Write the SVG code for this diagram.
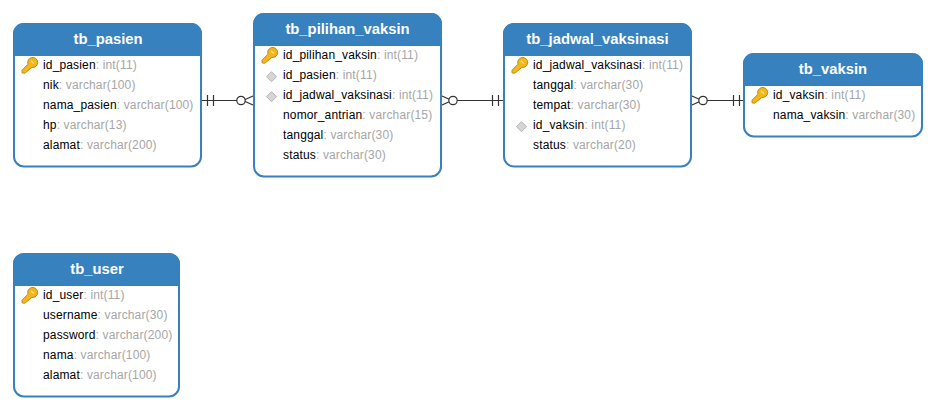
<svg xmlns="http://www.w3.org/2000/svg" width="936" height="411" viewBox="0 0 936 411">
<style>
text{font-family:"Liberation Sans",Arial,sans-serif;font-size:12px;letter-spacing:.15px;fill:#000}
.t{font-size:14.800px;font-weight:bold;letter-spacing:0;fill:#fff;text-anchor:middle}
.y{fill:#a6a6a6}
.b{fill:#fff;stroke:#3781bf;stroke-width:2}
.h{fill:#3781bf}
.c{fill:none;stroke:#333;stroke-width:1.200}
.o{fill:#fff;stroke:#333;stroke-width:1.200}
</style>
<defs>
<g id="key"><path d="M-7.500 6.200 L-1.500 0.200 A5 5 0 1 1 2.400 3.400 L-4.800 9.300 L-7.500 8.800Z" fill="#f3b71c" stroke="#c48a10" stroke-width="1"/><path d="M1.500 -3 L4.500 -0.500" stroke="#ffe38a" stroke-width="1.200" fill="none"/></g>
<path id="fk" d="M0 -5L5 0L0 5L-5 0Z" fill="#d6d6d6" stroke="#b3b3b3"/>
</defs>
<rect width="936" height="411" fill="#fff"/>
<g id="connectors">
<path class="c" d="M202 100.500H237M207.500 95V106M213.500 95V106"/><path class="c" d="M253 96L243 100.500L253 105"/><circle class="o" cx="241" cy="100.500" r="4.200"/>
<path class="c" d="M457 100.500H503M492.500 95V106M498.500 95V106"/><path class="c" d="M442 96L452 100.500L442 105"/><circle class="o" cx="453" cy="100.500" r="4.200"/>
<path class="c" d="M707 100.500H743M733.500 95V106M739.500 95V106"/><path class="c" d="M692 96L702 100.500L692 105"/><circle class="o" cx="703" cy="100.500" r="4.200"/>
</g>
<g id="tb_pasien">
<rect class="b" x="14" y="24" width="187" height="142.500" rx="10"/>
<path class="h" d="M13 56V34A11 11 0 0 1 24 23H191A11 11 0 0 1 202 34V56Z"/>
<text class="t" x="108" y="44">tb_pasien</text>
<use href="#key" x="29.500" y="64"/>
<text x="43" y="69">id_pasien<tspan class="y">: int(11)</tspan></text>
<text x="43" y="89">nik<tspan class="y">: varchar(100)</tspan></text>
<text x="43" y="109">nama_pasien<tspan class="y">: varchar(100)</tspan></text>
<text x="43" y="129">hp<tspan class="y">: varchar(13)</tspan></text>
<text x="43" y="149">alamat<tspan class="y">: varchar(200)</tspan></text>
</g>
<g id="tb_pilihan_vaksin">
<rect class="b" x="254" y="14" width="187" height="162.500" rx="10"/>
<path class="h" d="M253 46V24A11 11 0 0 1 264 13H431A11 11 0 0 1 442 24V46Z"/>
<text class="t" x="347.500" y="34">tb_pilihan_vaksin</text>
<use href="#key" x="269.500" y="54"/>
<use href="#fk" x="271.500" y="76.700"/>
<use href="#fk" x="271.500" y="96.700"/>
<text x="283" y="59">id_pilihan_vaksin<tspan class="y">: int(11)</tspan></text>
<text x="283" y="79">id_pasien<tspan class="y">: int(11)</tspan></text>
<text x="283" y="99">id_jadwal_vaksinasi<tspan class="y">: int(11)</tspan></text>
<text x="283" y="119">nomor_antrian<tspan class="y">: varchar(15)</tspan></text>
<text x="283" y="139">tanggal<tspan class="y">: varchar(30)</tspan></text>
<text x="283" y="159">status<tspan class="y">: varchar(30)</tspan></text>
</g>
<g id="tb_jadwal_vaksinasi">
<rect class="b" x="504" y="24" width="187" height="142.500" rx="10"/>
<path class="h" d="M503 56V34A11 11 0 0 1 514 23H681A11 11 0 0 1 692 34V56Z"/>
<text class="t" x="597.500" y="44">tb_jadwal_vaksinasi</text>
<use href="#key" x="519.500" y="64"/>
<use href="#fk" x="521.500" y="126.700"/>
<text x="533" y="69">id_jadwal_vaksinasi<tspan class="y">: int(11)</tspan></text>
<text x="533" y="89">tanggal<tspan class="y">: varchar(30)</tspan></text>
<text x="533" y="109">tempat<tspan class="y">: varchar(30)</tspan></text>
<text x="533" y="129">id_vaksin<tspan class="y">: int(11)</tspan></text>
<text x="533" y="149">status<tspan class="y">: varchar(20)</tspan></text>
</g>
<g id="tb_vaksin">
<rect class="b" x="744" y="54" width="178" height="82.500" rx="10"/>
<path class="h" d="M743 86V64A11 11 0 0 1 754 53H912A11 11 0 0 1 923 64V86Z"/>
<text class="t" x="833" y="74">tb_vaksin</text>
<use href="#key" x="759.500" y="94"/>
<text x="773" y="99">id_vaksin<tspan class="y">: int(11)</tspan></text>
<text x="773" y="119">nama_vaksin<tspan class="y">: varchar(30)</tspan></text>
</g>
<g id="tb_user">
<rect class="b" x="14" y="254" width="165" height="142.500" rx="10"/>
<path class="h" d="M13 286V264A11 11 0 0 1 24 253H169A11 11 0 0 1 180 264V286Z"/>
<text class="t" x="97" y="274">tb_user</text>
<use href="#key" x="29.500" y="294"/>
<text x="43" y="299">id_user<tspan class="y">: int(11)</tspan></text>
<text x="43" y="319">username<tspan class="y">: varchar(30)</tspan></text>
<text x="43" y="339">password<tspan class="y">: varchar(200)</tspan></text>
<text x="43" y="359">nama<tspan class="y">: varchar(100)</tspan></text>
<text x="43" y="379">alamat<tspan class="y">: varchar(100)</tspan></text>
</g>
</svg>
